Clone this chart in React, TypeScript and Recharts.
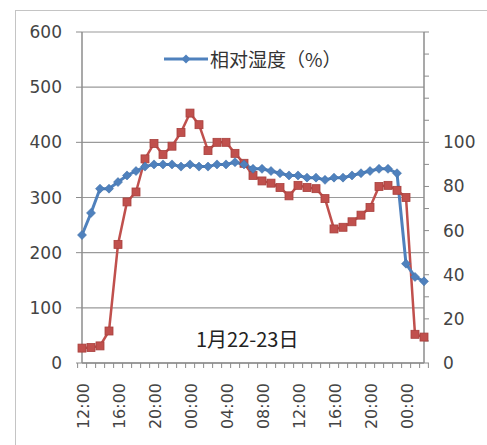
import { LineChart, Line, XAxis, YAxis, CartesianGrid } from "recharts";

// hourly readings, 22 Jan 12:00 -> 24 Jan 02:00
const hours = [
  "12:00", "13:00", "14:00", "15:00", "16:00", "17:00", "18:00", "19:00",
  "20:00", "21:00", "22:00", "23:00", "00:00", "01:00", "02:00", "03:00",
  "04:00", "05:00", "06:00", "07:00", "08:00", "09:00", "10:00", "11:00",
  "12:00", "13:00", "14:00", "15:00", "16:00", "17:00", "18:00", "19:00",
  "20:00", "21:00", "22:00", "23:00", "00:00", "01:00", "02:00",
];

const redValues = [
  27, 28, 31, 58, 215, 292, 310, 370, 398, 378, 393, 418, 453, 432, 385, 400,
  400, 380, 362, 340, 330, 326, 318, 303, 322, 318, 316, 298, 243, 246, 256,
  268, 282, 320, 322, 313, 300, 52, 47,
];

const humidity = [
  58, 68, 79, 79, 82, 85, 87, 89, 90, 90, 90, 89, 90, 89, 89, 90, 90, 91, 90,
  88, 88, 87, 86, 85, 85, 84, 84, 83, 84, 84, 85, 86, 87, 88, 88, 86, 45, 39, 37,
];

const leftTicks = [0, 100, 200, 300, 400, 500, 600];
const rightTicks = [0, 10, 20, 30, 40, 50, 60, 70, 80, 90, 100, 110, 120, 130, 140, 150];

const data = hours.map((h, i) => ({ time: h, value: redValues[i], rh: humidity[i] }));

const RED = "#C0504D";
const BLUE = "#4F81BD";
const AXIS = "#8c8c8c";
const FONT = "'DejaVu Sans', Verdana, sans-serif";

const W = 487;
const H = 445;
const margin = { top: 32, right: 23, bottom: 12, left: 22 };
const plotW = W - margin.left - margin.right - 60 - 40;
const step = plotW / hours.length;

const SquareDot = (props: any) => {
  const { cx, cy, index } = props;
  if (cx == null || cy == null) return null;
  return <rect key={index} x={cx - 4} y={cy - 4} width={8} height={8} fill={RED} stroke="#a8403d" strokeWidth={0.8} />;
};

const DiamondDot = (props: any) => {
  const { cx, cy, index } = props;
  if (cx == null || cy == null) return null;
  return (
    <path
      key={index}
      d={`M${cx},${cy - 4.5}L${cx + 4.5},${cy}L${cx},${cy + 4.5}L${cx - 4.5},${cy}Z`}
      fill={BLUE}
      stroke="#3f6fa8"
      strokeWidth={0.6}
    />
  );
};

const TimeTick = (props: any) => {
  const { x, y, index, payload } = props;
  const bx = x - step / 2;
  return (
    <g>
      <line x1={bx} y1={y} x2={bx} y2={y + 5} stroke={AXIS} />
      {index === hours.length - 1 && (
        <line x1={x + step / 2} y1={y} x2={x + step / 2} y2={y + 5} stroke={AXIS} />
      )}
      {index % 4 === 0 && (
        <text
          x={0}
          y={0}
          transform={`translate(${x + 1},${y + 20}) rotate(-90)`}
          textAnchor="end"
          dominantBaseline="central"
          fontSize={16}
          fill="#444"
          fontFamily={FONT}
        >
          {payload.value}
        </text>
      )}
    </g>
  );
};

const RightTick = (props: any) => {
  const { x, y, payload } = props;
  const v = payload.value;
  if (v % 20 !== 0 || v > 100) return null;
  return (
    <text x={x} y={y} textAnchor="start" dominantBaseline="central" fontSize={17} fill="#444" fontFamily={FONT}>
      {v}
    </text>
  );
};

export default function App() {
  return (
    <div style={{ position: "absolute", left: 0, top: 0, width: W, height: H, background: "#fff", overflow: "hidden" }}>
      <div
        style={{
          position: "absolute",
          left: 15,
          top: 10,
          width: W,
          height: H,
          borderTop: "1.5px solid #c4c4c4",
          borderLeft: "1.5px solid #c4c4c4",
        }}
      />
      <div style={{ position: "absolute", left: 0, top: 0 }}>
        <LineChart width={W} height={H} data={data} margin={margin}>
          <CartesianGrid yAxisId="left" vertical={false} stroke="#9a9a9a" strokeWidth={1.2} />
          <XAxis
            dataKey="time"
            interval={0}
            height={70}
            tickLine={false}
            tickSize={0}
            tickMargin={0}
            axisLine={{ stroke: AXIS, strokeWidth: 1.5 }}
            tick={<TimeTick />}
          />
          <YAxis
            yAxisId="left"
            width={60}
            domain={[0, 600]}
            ticks={leftTicks}
            interval={0}
            tickSize={6}
            tickMargin={14}
            axisLine={{ stroke: AXIS, strokeWidth: 1.5 }}
            tickLine={{ stroke: AXIS }}
            tick={{ fontSize: 17, fill: "#444", fontFamily: FONT }}
          />
          <YAxis
            yAxisId="right"
            orientation="right"
            width={40}
            domain={[0, 150]}
            ticks={rightTicks}
            interval={0}
            tickSize={5}
            tickMargin={14}
            axisLine={{ stroke: AXIS, strokeWidth: 1.5 }}
            tickLine={{ stroke: AXIS }}
            tick={<RightTick />}
          />
          <Line
            yAxisId="left"
            dataKey="value"
            name="数值"
            stroke={RED}
            strokeWidth={2.5}
            dot={<SquareDot />}
            activeDot={false}
            legendType="none"
            isAnimationActive={false}
          />
          <Line
            yAxisId="right"
            dataKey="rh"
            name="相对湿度（%）"
            stroke={BLUE}
            strokeWidth={3}
            dot={<DiamondDot />}
            activeDot={false}
            isAnimationActive={false}
          />
        </LineChart>
      </div>
      <div
        style={{
          position: "absolute",
          left: 164,
          top: 45,
          display: "flex",
          alignItems: "center",
          fontFamily: "'Noto Sans CJK SC', sans-serif",
          fontSize: 19,
          color: "#333",
        }}
      >
        <svg width={44} height={14}>
          <line x1={0} y1={7} x2={44} y2={7} stroke={BLUE} strokeWidth={3} />
          <path d="M22,2.5L26.5,7L22,11.5L17.5,7Z" fill={BLUE} />
        </svg>
        <span style={{ marginLeft: 2 }}>相对湿度（%）</span>
      </div>
      <div
        style={{
          position: "absolute",
          left: 196,
          top: 324,
          fontFamily: "'Noto Sans CJK SC', sans-serif",
          fontSize: 20,
          color: "#222",
        }}
      >
        1月22-23日
      </div>
    </div>
  );
}
